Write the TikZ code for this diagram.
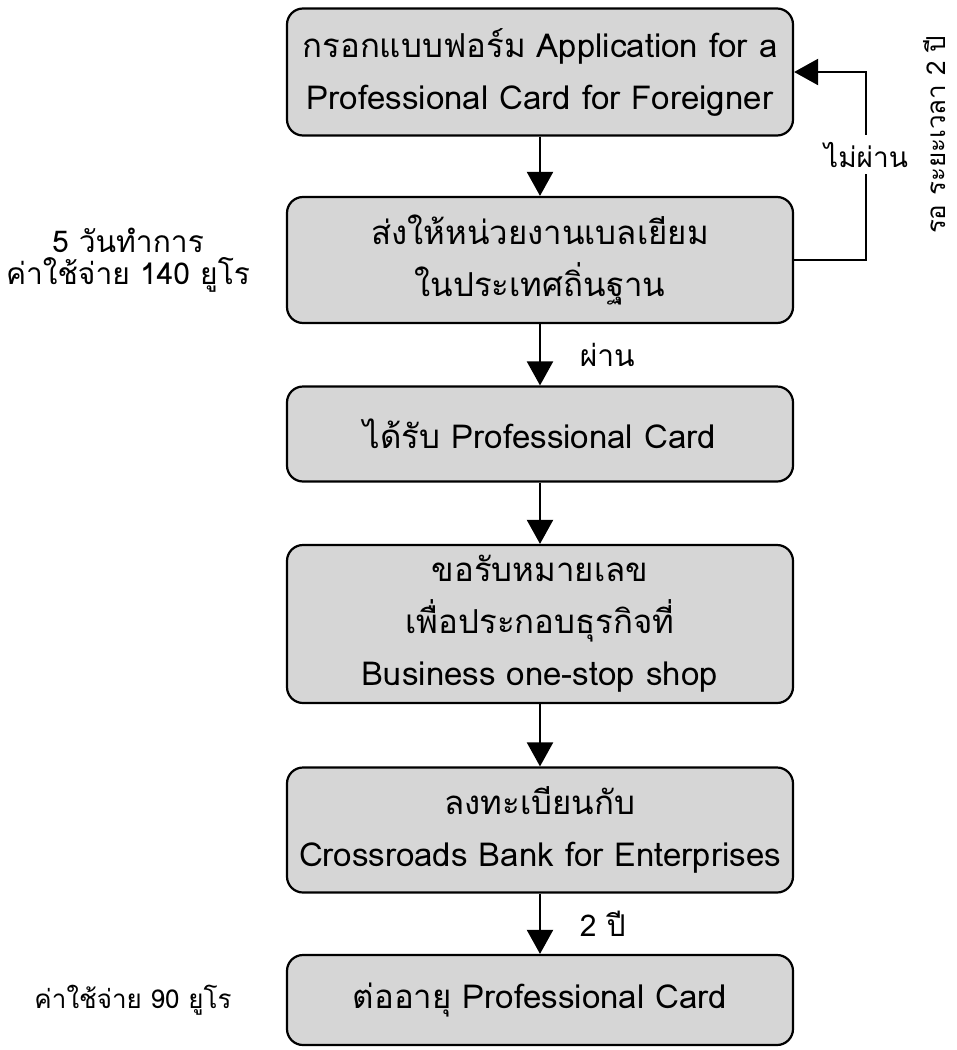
\documentclass[tikz,border=0pt]{standalone}
\usepackage{fontspec}
\setmainfont[Script=Thai]{Loma}
\usetikzlibrary{arrows.meta}
\newcommand{\boxw}{253pt}
\newcommand{\lw}{1.1pt}

\begin{document}
\begin{tikzpicture}[x=0.5pt,y=-0.5pt,
    stepbox/.style={draw, line width=\lw, rounded corners=8pt, fill=black!16,
        minimum width=\boxw, align=center, font=\fontsize{16.5}{26}\selectfont},
    flow/.style={line width=\lw, -{Triangle[width=13pt,length=12pt]}},
    note/.style={align=center, font=\fontsize{15}{16}\selectfont}]
        %\draw[help lines] (0,0) grid (957,1050);
        \useasboundingbox (0,0) rectangle (957,1050);
        % steps
        \node[stepbox, minimum height=63.5pt] (form) at (540,72)
            {กรอกแบบฟอร์ม Application for a\\Professional Card for Foreigner};
        \node[stepbox, minimum height=63pt] (send) at (540,260)
            {ส่งให้หน่วยงานเบลเยียม\\ในประเทศถิ่นฐาน};
        \node[stepbox, minimum height=47.5pt] (card) at (540,434)
            {ได้รับ Professional Card};
        \node[stepbox, minimum height=79pt] (number) at (540,624)
            {ขอรับหมายเลข\\เพื่อประกอบธุรกิจที่\\Business one-stop shop};
        \node[stepbox, minimum height=62.5pt] (bank) at (540,830)
            {ลงทะเบียนกับ\\Crossroads Bank for Enterprises};
        \node[stepbox, minimum height=45pt] (renew) at (540,1000)
            {ต่ออายุ Professional Card};
        
        % notes
        \node[note] (cost1) at (128,260) {5 วันทำการ\\ค่าใช้จ่าย 140 ยูโร};
        \node[note, font=\fontsize{13}{16}\selectfont] (cost2) at (133,1000) {ค่าใช้จ่าย 90 ยูโร};
        \node[note, rotate=90, font=\fontsize{13}{16}\selectfont] (wait) at (935,135) {รอ ระยะเวลา 2 ปี};
        
        % arrows
        \draw[flow] (form) -- (send);
        \draw[flow] (send) -- node[note, right=16pt] (pass) {ผ่าน} (card);
        \draw[flow] (card) -- (number);
        \draw[flow] (number) -- (bank);
        \draw[flow] (bank) -- node[note, right=16pt] (twoyr) {2 ปี} (renew);
        \draw[flow] (send.east) -- ++(72,0) |- node[pos=0.28, note, fill=white, font=\fontsize{14}{16}\selectfont] (fail) {ไม่ผ่าน} (form.east);
        
    \end{tikzpicture}
\end{document}
